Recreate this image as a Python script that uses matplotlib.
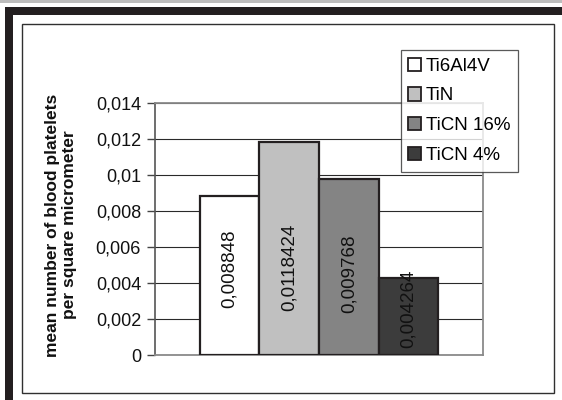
import matplotlib
matplotlib.use("Agg")
import matplotlib.pyplot as plt
from matplotlib.patches import Rectangle

plt.rcParams['font.family'] = ['Liberation Sans', 'DejaVu Sans']

# data
materials = ["Ti6Al4V", "TiN", "TiCN 16%", "TiCN 4%"]
values = [0.008848, 0.0118424, 0.009768, 0.004264]
value_labels = ["0,008848", "0,0118424", "0,009768", "0,004264"]
y_ticks = [0, 0.002, 0.004, 0.006, 0.008, 0.01, 0.012, 0.014]
y_tick_labels = ["0", "0,002", "0,004", "0,006", "0,008", "0,01", "0,012", "0,014"]
ylabel = "mean number of blood platelets\nper square micrometer"

# styling
colors = ["#ffffff", "#c0c0c0", "#848484", "#3c3c3c"]
label_frac = [0.54, 0.41, 0.46, 0.60]   # where the value text sits along each bar
ink = "#231f20"

W, H = 562, 400
fig = plt.figure(figsize=(W / 100, H / 100), dpi=100)
fig.patch.set_facecolor("white")

def fx(px):
    return px / W

def fy(py):
    return 1 - py / H

# page decorations: grey strip, black frame bands, chart border
fig.add_artist(Rectangle((0, fy(2.5)), 1, 2.5 / H, transform=fig.transFigure,
                         facecolor="#bdbdbd", edgecolor="none", zorder=0))
fig.add_artist(Rectangle((fx(5), fy(15)), 1 - fx(5), 8 / H, transform=fig.transFigure,
                         facecolor=ink, edgecolor="none", zorder=0))
fig.add_artist(Rectangle((fx(5), 0), 8 / W, fy(7), transform=fig.transFigure,
                         facecolor=ink, edgecolor="none", zorder=0))
fig.add_artist(Rectangle((fx(21.5), fy(393)), fx(554) - fx(21.5), (393 - 24) / H,
                         transform=fig.transFigure, facecolor="none",
                         edgecolor="#303030", linewidth=1.0, zorder=0))

ax = fig.add_axes([fx(155), fy(355), fx(483) - fx(155), (355 - 102.7) / H])
ax.set_facecolor("none")

n = len(values)
w = 1 / (n + 1.5)
xs = [(i - (n - 1) / 2) * w for i in range(n)]
bars = ax.bar(xs, values, width=w, color=colors, edgecolor=ink, linewidth=1.6,
              label=materials, zorder=3)

for x, v, t, f in zip(xs, values, value_labels, label_frac):
    ax.text(x, v * f, t, rotation=90, ha="center", va="center",
            fontsize=13.5, color="#111111", zorder=4)

ax.set_xlim(-0.5, 0.5)
ax.set_ylim(0, 0.014)
ax.set_xticks([])
ax.set_yticks(y_ticks)
ax.set_yticklabels(y_tick_labels, fontsize=13, color="#111111")
ax.tick_params(axis="y", direction="out", length=6, width=1, color="#444444", pad=4)
ax.yaxis.grid(True, color="#2a2a2a", linewidth=0.8, zorder=1)
ax.set_axisbelow(True)
for side in ("top", "right", "bottom"):
    ax.spines[side].set_color("#8a8a8a")
    ax.spines[side].set_linewidth(1.3)
ax.spines["left"].set_color("#555555")
ax.spines["left"].set_linewidth(1.2)

fig.text(fx(61), fy(225), ylabel, rotation=90, ha="center", va="center",
         fontsize=12.5, fontweight="bold", linespacing=1.2, color="#111111")

leg = fig.legend(bars, materials, loc="upper left",
                 bbox_to_anchor=(fx(400.7), fy(50)), borderaxespad=0,
                 fontsize=13.5, frameon=True, fancybox=False, shadow=False,
                 handlelength=0.7, handleheight=0.7, handletextpad=0.25,
                 labelspacing=0.68, borderpad=0.4)
leg.get_frame().set_edgecolor("#303030")
leg.get_frame().set_linewidth(0.9)
for h in leg.legend_handles:
    h.set_linewidth(1.3)

fig.savefig("out.png", dpi=100)
